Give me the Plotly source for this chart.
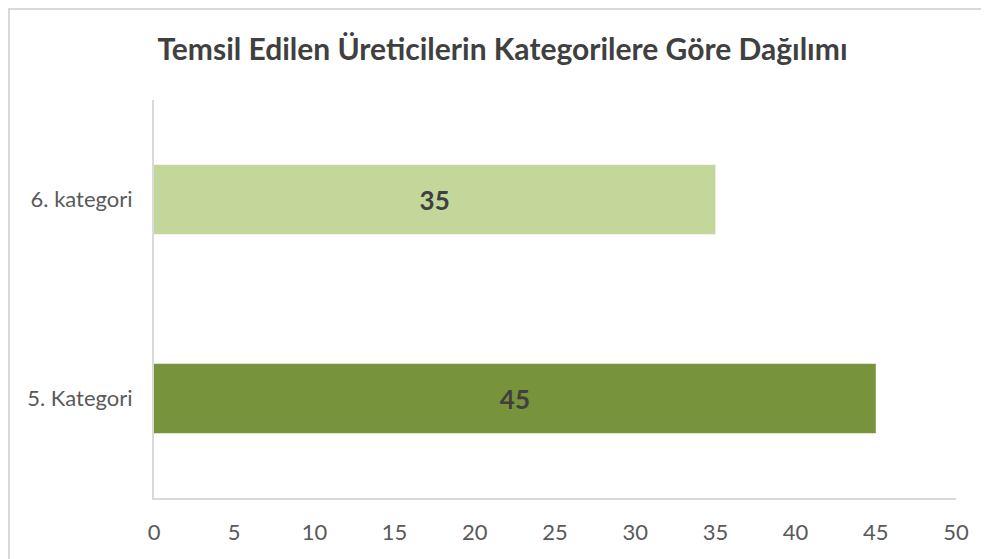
import plotly.graph_objects as go

categories = ["5. Kategori", "6. kategori"]
values = [45, 35]
colors = ["#77933C", "#C4D79B"]
x_ticks = [0, 5, 10, 15, 20, 25, 30, 35, 40, 45, 50]
title_text = "Temsil Edilen Üreticilerin Kategorilere Göre Dağılımı"

FONT = "Lato, Noto Sans, sans-serif"
W, H = 989, 559
L, R, T, B = 146, 41, 92, 69
pw = W - L - R
ph = H - T - B

fig = go.Figure()
fig.add_trace(go.Bar(
    y=categories, x=values, orientation="h",
    marker=dict(color=colors, line=dict(width=0)),
    text=[str(v) for v in values], textposition="inside",
    insidetextanchor="middle",
    textfont=dict(family=FONT, size=26, color="#404040", weight="bold"),
    width=0.35,
    hoverinfo="skip",
))

fig.update_layout(
    width=W, height=H,
    margin=dict(l=L, r=R, t=T, b=B),
    paper_bgcolor="white", plot_bgcolor="white",
    showlegend=False,
    title=dict(text=title_text, x=0.5, xanchor="center", y=1 - 41 / H, yanchor="middle",
               font=dict(family=FONT, size=30, color="#404040", weight="bold")),
    xaxis=dict(range=[0, 50], tickvals=x_ticks, showgrid=False, zeroline=False,
               showline=True, linecolor="#D9D9D9", linewidth=2, ticks="",
               ticklabelstandoff=14,
               tickfont=dict(family=FONT, size=22, color="#595959")),
    yaxis=dict(showgrid=False, zeroline=False, showline=True, linecolor="#D9D9D9", linewidth=2,
               ticks="", ticklabelstandoff=15, range=[-0.5, 1.5],
               tickfont=dict(family=FONT, size=22, color="#595959")),
    shapes=[dict(type="rect", xref="paper", yref="paper",
                 x0=(1 - L) / pw, x1=(W + 10 - L) / pw,
                 y0=(H - B - (H + 10)) / ph, y1=(H - B - 1) / ph,
                 line=dict(color="#D9D9D9", width=2), fillcolor="rgba(0,0,0,0)", layer="below")],
)

fig.write_html("out.html")
